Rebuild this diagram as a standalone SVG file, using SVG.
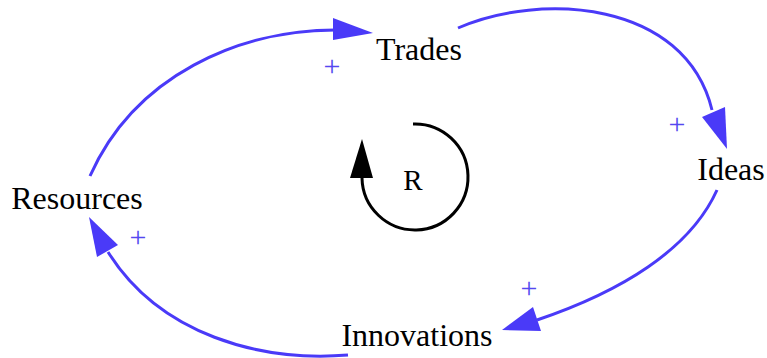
<svg xmlns="http://www.w3.org/2000/svg" width="767" height="358" viewBox="0 0 767 358">
<style>
.lbl{font-family:"Liberation Serif","Times New Roman",serif;font-size:32px;fill:#000;text-anchor:middle}
.pl{font-family:"Liberation Serif","Times New Roman",serif;font-size:30px;fill:#5548f0;text-anchor:middle}
.ln{fill:none;stroke:#4a3af8;stroke-width:3}
.ah{fill:#4a3af8}
</style>
<rect width="767" height="358" fill="#fff"/>
<g id="connectors">
<path class="ln" d="M90,176 C135,75 240,30 335,30"/>
<polygon class="ah" points="333,18 373,33 333,40"/>
<path class="ln" d="M458,28 C540,-8 685,0 712,110"/>
<polygon class="ah" points="702,117 727,149 725,107"/>
<path class="ln" d="M717,190 C690,250 620,292 537,320"/>
<polygon class="ah" points="533,307 502,330 541,331"/>
<path class="ln" d="M348,355 C260,362 160,335 108,252"/>
<polygon class="ah" points="97,257 89,217 118,245"/>
</g>
<g id="plus-labels">
<text class="pl" x="332" y="76">+</text>
<text class="pl" x="677" y="134">+</text>
<text class="pl" x="138" y="247">+</text>
<text class="pl" x="529" y="298">+</text>
</g>
<g id="loop">
<path d="M413,124 A53,53 0 1 1 362,178" fill="none" stroke="#000" stroke-width="3"/>
<polygon points="350,178 362,139 373,178" fill="#000"/>
<text class="lbl" x="413" y="190" style="font-size:29px">R</text>
</g>
<g id="trades"><text class="lbl" x="419" y="60">Trades</text></g>
<g id="ideas"><text class="lbl" x="731" y="180">Ideas</text></g>
<g id="innovations"><text class="lbl" x="417" y="346">Innovations</text></g>
<g id="resources"><text class="lbl" x="77" y="209">Resources</text></g>
</svg>
